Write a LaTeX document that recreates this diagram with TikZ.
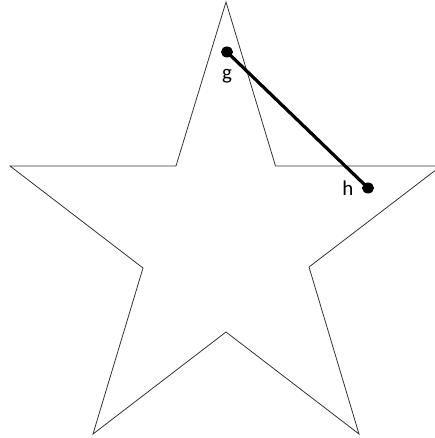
\documentclass[tikz,border=0pt]{standalone}
\usepackage{fontspec}
\setmainfont{Carlito}
\begin{document}
\begin{tikzpicture}[x=1pt,y=-1pt,
  starline/.style={draw=black!80, line width=0.8pt, line join=miter},
  dot/.style={ellipse, fill=black, inner sep=0pt, minimum width=12pt, minimum height=11pt},
  lbl/.style={font=\fontsize{21}{24}\selectfont, inner sep=0pt}]
\usetikzlibrary{shapes.geometric}
\useasboundingbox (0,0) rectangle (435,438);
\begin{scope}
\clip (0,0) rectangle (435,438);
\draw[starline] (226,2) -- (275.5,166) -- (441,166) -- (309,267) -- (359,434) -- (226,332) -- (93,434) -- (143,268) -- (10,166) -- (176,166) -- cycle;
\end{scope}
\node[dot] (g) at (227,52) {};
\node[dot] (h) at (368,188) {};
\draw[line width=3.2pt] (g.center) -- (h.center);
\node[lbl, anchor=base] (gl) at (227,80) {g};
\node[lbl, anchor=base] (hl) at (348,195) {h};
\end{tikzpicture}
\end{document}
